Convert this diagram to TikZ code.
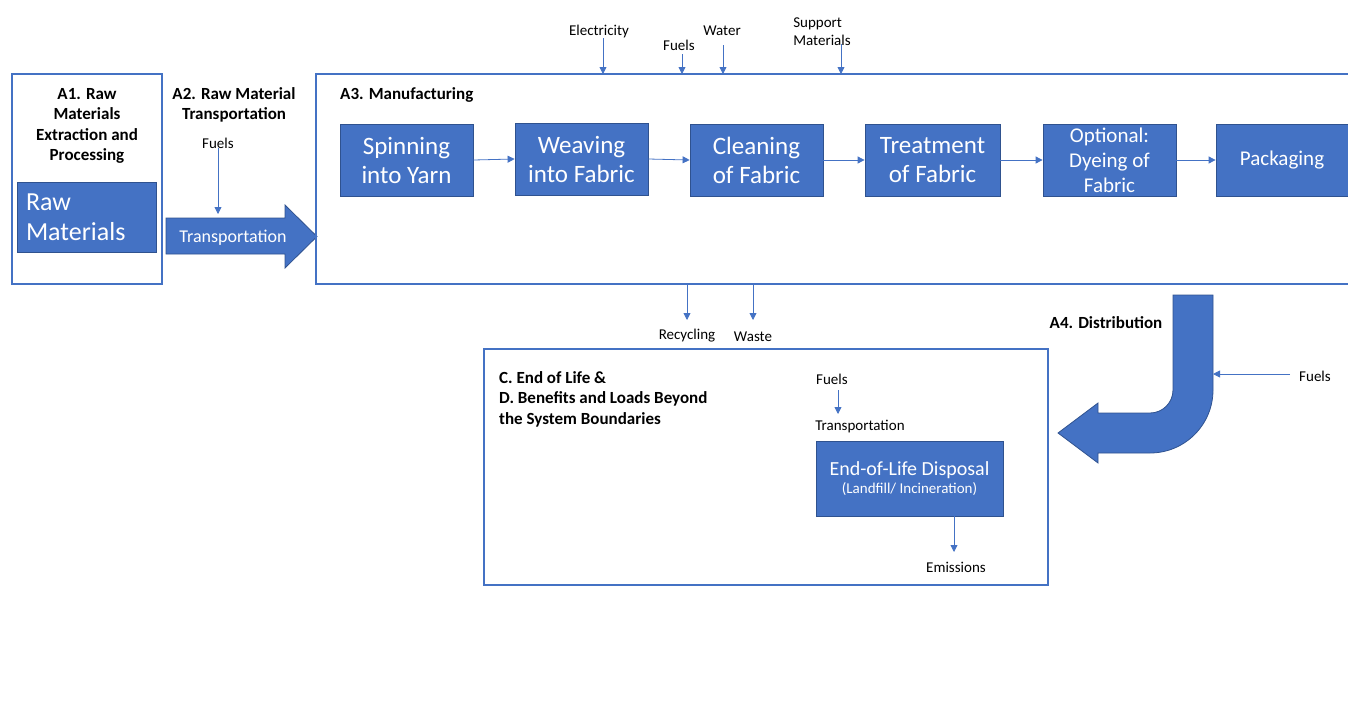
\documentclass[tikz,border=0pt]{standalone}
\usepackage{fontspec}
\setmainfont{Carlito}
\usetikzlibrary{arrows.meta}
\definecolor{ofblue}{HTML}{4472C4}
\definecolor{ofedge}{HTML}{2F528F}
\begin{document}
\begin{tikzpicture}[x=1pt,y=-1pt,
  bound/.style={draw=ofblue,line width=1.5pt,inner sep=0pt},
  proc/.style={draw=ofedge,line width=0.8pt,fill=ofblue,text=white,minimum width=133pt,minimum height=72pt,inner sep=0pt,align=center,font=\fontsize{25}{29}\selectfont},
  lbl/.style={font=\fontsize{15}{18}\selectfont,inner sep=0pt,align=center},
  ttl/.style={font=\bfseries\fontsize{17}{20.5}\selectfont,inner sep=0pt,align=center},
  flow/.style={draw=ofblue,line width=0.8pt,-{Triangle[length=7pt,width=7pt]}},
  bigarrow/.style={fill=ofblue,draw=ofedge,line width=0.8pt},
]
\useasboundingbox (0,0) rectangle (1348,713);

% A1
\node[bound,minimum width=150pt,minimum height=210pt] (a1) at (87,179) {};
\node[ttl] (a1t) at (87,126) {A1. Raw\\Materials\\Extraction and\\Processing};
\node[draw=ofedge,line width=0.5pt,fill=ofblue,text=white,minimum width=139pt,minimum height=70pt,inner sep=0pt,text width=121pt,align=left,font=\fontsize{26}{30}\selectfont] (raw) at (86.5,217) {\raisebox{-3pt}{Raw}\\\raisebox{-3pt}{Materials}};

% A2
\node[ttl] (a2t) at (234,105) {A2. Raw Material\\Transportation};
\node[lbl] (f2) at (218,143) {Fuels};
\coordinate (f2in) at (218,214);
\draw[flow] (f2.south) -- (f2in);
\draw[bigarrow] (166,218) -- (285,218) -- (285,205) -- (317,236.5) -- (285,268) -- (285,254) -- (166,254) -- cycle;
\node[text=white,font=\fontsize{18}{20}\selectfont,inner sep=0pt] (tr) at (233,238) {Transportation};

% A3
\draw[ofblue,line width=1.5pt] (1349,74) -- (316,74) -- (316,284) -- (1349,284);
\node[ttl,anchor=west] (a3t) at (340,95) {A3. Manufacturing};
\node[proc] (sp) at (406.5,160) {\raisebox{-2pt}{Spinning}\\\raisebox{-2pt}{into Yarn}};
\node[proc] (we) at (581.5,159) {\raisebox{-2pt}{Weaving}\\\raisebox{-2pt}{into Fabric}};
\node[proc] (cl) at (756.5,160) {\raisebox{-2pt}{Cleaning}\\\raisebox{-2pt}{of Fabric}};
\node[proc,minimum width=135pt] (tt) at (932.5,160) {\raisebox{-2pt}{Treatment}\\\raisebox{-2pt}{of Fabric}};
\node[proc,font=\fontsize{21}{25}\selectfont] (op) at (1109.5,160) {Optional:\\Dyeing of\\Fabric};
\node[proc,minimum width=132pt,font=\fontsize{21}{25}\selectfont] (pk) at (1282,160) {\raisebox{-6pt}{Packaging}};
\draw[flow] (sp.east) -- (we.west);
\draw[flow] (we.east) -- (cl.west);
\draw[flow] (cl.east) -- (tt.west);
\draw[flow] (tt.east) -- (op.west);
\draw[flow] (op.east) -- (pk.west);

% top inputs
\node[lbl] (el) at (599,31) {Electricity};
\node[lbl] (fu) at (679,45) {Fuels};
\node[lbl] (wa) at (722,31) {Water};
\node[lbl,align=left] (su) at (822,32) {Support\\Materials};
\coordinate (elIn) at (603,74);
\coordinate (fuIn) at (682,74);
\coordinate (waIn) at (723,74);
\coordinate (suIn) at (841,74);
\coordinate (elS) at (603,38);
\coordinate (fuS) at (682,54);
\coordinate (waS) at (723,45);
\coordinate (suS) at (841,44);
\draw[flow] (elS) -- (elIn);
\draw[flow] (fuS) -- (fuIn);
\draw[flow] (waS) -- (waIn);
\draw[flow] (suS) -- (suIn);

% outputs below A3
\node[lbl] (rc) at (687,336) {Recycling};
\node[lbl] (ws) at (753,337) {Waste};
\coordinate (rcS) at (687,284);
\coordinate (wsS) at (753,284);
\coordinate (rcE) at (687,320);
\coordinate (wsE) at (753,320);
\draw[flow] (rcS) -- (rcE);
\draw[flow] (wsS) -- (wsE);

% A4
\node[ttl] (a4t) at (1106,323) {A4. Distribution};
\draw[bigarrow] (1173,295) -- (1213,295) -- (1213,390) .. controls (1213,424.8) and (1184.8,453) .. (1150,453) -- (1098,453) -- (1098,463) -- (1058,433) -- (1098,403) -- (1098,413) -- (1150,413) .. controls (1162.7,413) and (1173,402.7) .. (1173,390) -- cycle;
\node[lbl] (f4) at (1315,376) {Fuels};
\coordinate (f4S) at (1290,374);
\coordinate (f4E) at (1213,374);
\draw[flow] (f4S) -- (f4E);

% C / D
\node[bound,minimum width=564pt,minimum height=236pt] (cd) at (766,467) {};
\node[ttl,anchor=west,align=left] (cdt) at (499,399) {C. End of Life \&\\D. Benefits and Loads Beyond\\the System Boundaries};
\node[lbl] (f5) at (832,379) {Fuels};
\node[lbl] (tr5) at (860,427) {Transportation};
\coordinate (f5S) at (838,390);
\coordinate (f5E) at (838,414);
\draw[flow] (f5S) -- (f5E);
\node[draw=ofedge,line width=0.8pt,fill=ofblue,text=white,minimum width=187pt,minimum height=75pt,inner sep=0pt,align=center] (eol) at (909.5,478.5) {{\fontsize{20}{22}\selectfont End-of-Life Disposal}\\[3pt]{\fontsize{15}{17}\selectfont (Landfill/ Incineration)}};
\node[lbl] (em) at (956,567) {Emissions};
\coordinate (emS) at (954,516);
\coordinate (emE) at (954,552);
\draw[flow] (emS) -- (emE);
\end{tikzpicture}
\end{document}
